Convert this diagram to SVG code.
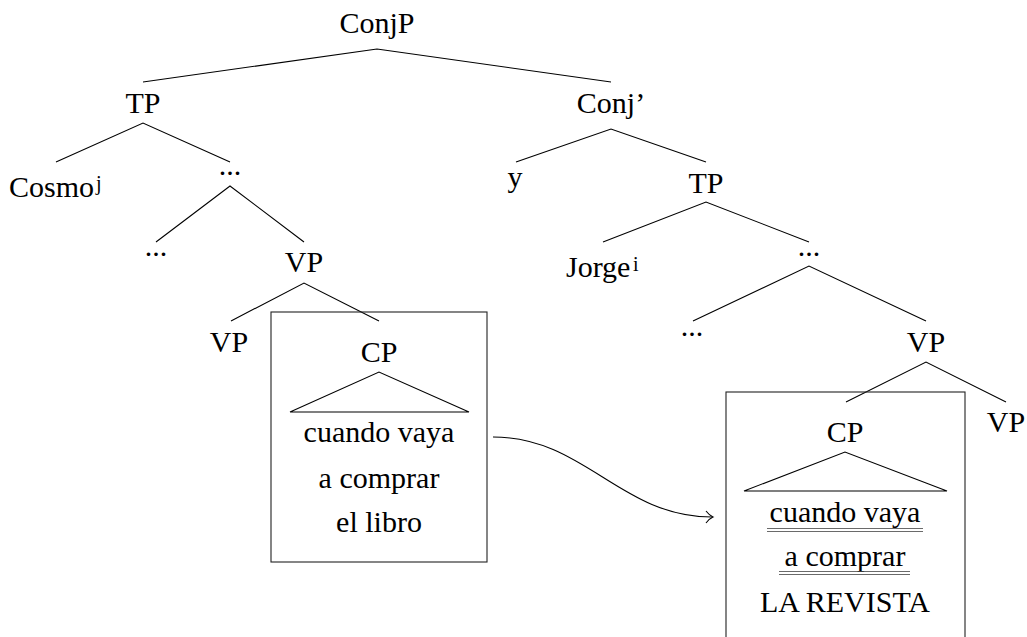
<svg xmlns="http://www.w3.org/2000/svg" width="1027" height="637" viewBox="0 0 1027 637">
  <defs>
    <style>
      .lbl { font-family: "Liberation Serif", "Times New Roman", serif; font-size: 30px; fill: #000; text-anchor: middle; }
      .start { text-anchor: start; }
      .sup { font-family: "Liberation Serif", "Times New Roman", serif; font-size: 20px; fill: #000; }
      .edge { fill: none; stroke: #000; stroke-width: 1.1; stroke-linejoin: miter; }
      .box { fill: none; stroke: #222; stroke-width: 1.1; }
      .tri { fill: none; stroke: #000; stroke-width: 1.1; stroke-linejoin: miter; }
      .uline { stroke: #444; stroke-width: 0.8; }
    </style>
  </defs>

  <rect width="1027" height="637" fill="#fff"/>

  <!-- branches of the tree -->
  <g id="connectors">
    <polyline class="edge" points="143,82 377,49 611,82"/>
    <polyline class="edge" points="56,162 143,123 230,162"/>
    <polyline class="edge" points="516,162 611,129 706,162"/>
    <polyline class="edge" points="156,242 230,186 304,242"/>
    <polyline class="edge" points="603,242 706,202 809,242"/>
    <polyline class="edge" points="231,321 304,283 379,321"/>
    <polyline class="edge" points="693,321 809,266 926,321"/>
    <polyline class="edge" points="846,402 926,362 1006,402"/>
    <!-- movement arrow from the adjunct clause to its copy -->
    <path class="edge" d="M493,437 C585,437 620,517 712,517"/>
    <path class="edge" d="M706,511 Q709.5,515.5 713,517 Q709.5,518.5 706,523"/>
  </g>

  <g id="n-conjp"><text class="lbl" x="377" y="33">ConjP</text></g>
  <g id="n-tp1"><text class="lbl" x="143" y="113">TP</text></g>
  <g id="n-conjbar"><text class="lbl" x="611" y="113">Conj’</text></g>
  <g id="n-cosmo">
    <text class="lbl start" x="9" y="197">Cosmo</text>
    <text class="sup" x="96" y="190">j</text>
  </g>
  <g id="n-dots1"><text class="lbl" x="230" y="175">...</text></g>
  <g id="n-y"><text class="lbl" x="515" y="187">y</text></g>
  <g id="n-tp2"><text class="lbl" x="706" y="193">TP</text></g>
  <g id="n-dots2"><text class="lbl" x="156" y="256">...</text></g>
  <g id="n-vp1"><text class="lbl" x="304" y="272">VP</text></g>
  <g id="n-jorge">
    <text class="lbl start" x="566" y="277">Jorge</text>
    <text class="sup" x="633" y="271">i</text>
  </g>
  <g id="n-dots3"><text class="lbl" x="809" y="256">...</text></g>
  <g id="n-vp2"><text class="lbl" x="229" y="352">VP</text></g>
  <g id="n-dots4"><text class="lbl" x="692" y="336">...</text></g>
  <g id="n-vp3"><text class="lbl" x="926" y="352">VP</text></g>
  <g id="n-vp4"><text class="lbl" x="1006" y="432">VP</text></g>

  <!-- boxed adjunct clause, original position -->
  <g id="n-cp1">
    <rect class="box" x="271" y="312" width="216" height="250"/>
    <text class="lbl" x="379" y="362">CP</text>
    <polygon class="tri" points="290,412 379,372 469,412"/>
    <text class="lbl" x="379" y="442">cuando vaya</text>
    <text class="lbl" x="379" y="488">a comprar</text>
    <text class="lbl" x="379" y="532">el libro</text>
  </g>

  <!-- boxed adjunct clause, copy with deleted material underlined -->
  <g id="n-cp2">
    <rect class="box" x="726" y="392" width="239" height="260"/>
    <text class="lbl" x="845" y="442">CP</text>
    <polygon class="tri" points="744,491 845,452 947,491"/>
    <text class="lbl" x="845" y="522">cuando vaya</text>
    <line class="uline" x1="767" y1="528.5" x2="923" y2="528.5"/>
    <line class="uline" x1="767" y1="531.5" x2="923" y2="531.5"/>
    <text class="lbl" x="845" y="566">a comprar</text>
    <line class="uline" x1="779" y1="571.5" x2="910" y2="571.5"/>
    <line class="uline" x1="779" y1="574.5" x2="910" y2="574.5"/>
    <text class="lbl" x="845" y="612">LA REVISTA</text>
  </g>
</svg>
